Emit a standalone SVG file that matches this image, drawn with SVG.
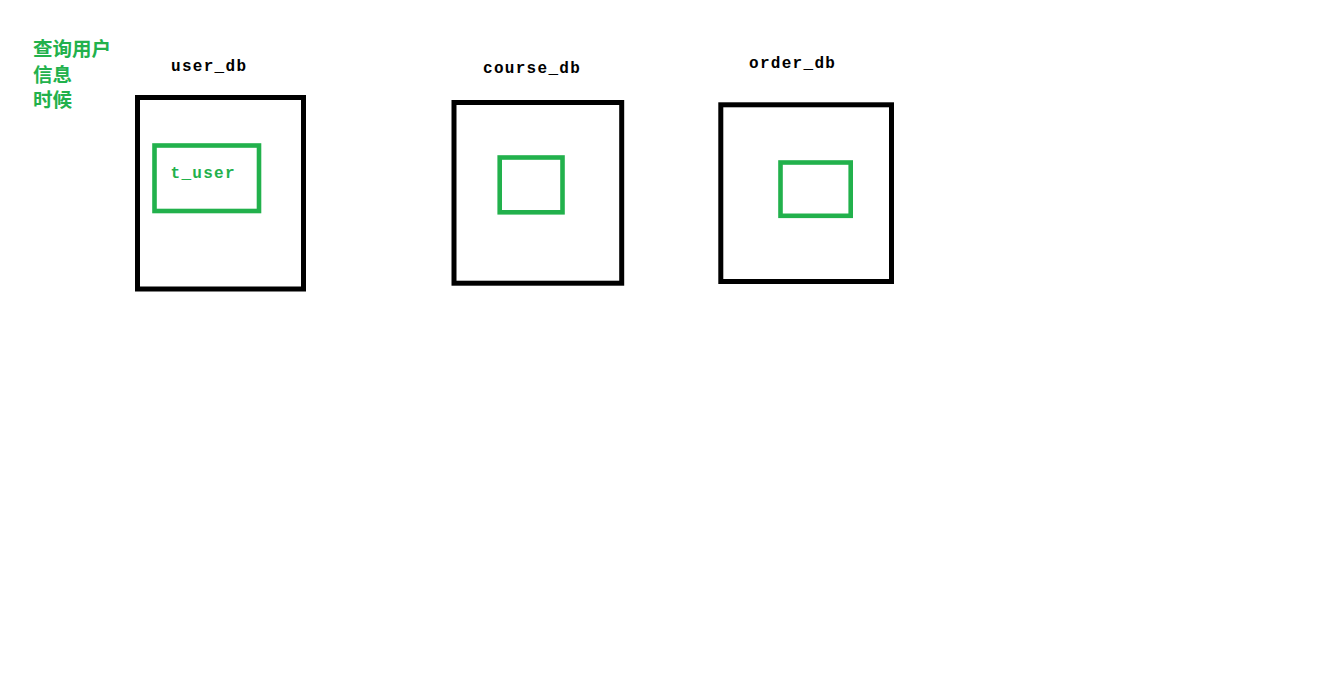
<svg xmlns="http://www.w3.org/2000/svg" width="1333" height="692" viewBox="0 0 1333 692">
<style>
.db{fill:none;stroke:#000;stroke-width:5}
.tb{fill:none;stroke:#22b14c;stroke-width:4.6}
.lbl{font-family:"Liberation Mono","DejaVu Sans Mono",monospace;font-size:16px;font-weight:bold;letter-spacing:1.3px;fill:#000}
.tl{font-family:"Liberation Mono","DejaVu Sans Mono",monospace;font-size:16px;font-weight:bold;letter-spacing:1.3px;fill:#22b14c}
.cn{font-family:"Liberation Sans","Noto Sans CJK SC",sans-serif;font-size:19.5px;font-weight:bold;fill:#22b14c}
</style>
<rect width="1333" height="692" fill="#fff"/>
<g id="note">
<text class="cn" x="33" y="56">查询用户</text>
<text class="cn" x="33" y="82">信息</text>
<text class="cn" x="33" y="107">时候</text>
</g>
<g id="user_db">
<text class="lbl" x="171" y="71">user_db</text>
<rect class="db" x="137.5" y="97.5" width="166" height="191.5"/>
</g>
<g id="t_user">
<rect class="tb" x="154.5" y="145.5" width="104.5" height="65.5"/>
<text class="tl" x="170.5" y="178">t_user</text>
</g>
<g id="course_db">
<text class="lbl" x="483" y="73">course_db</text>
<rect class="db" x="454" y="102.5" width="167.7" height="180.7"/>
</g>
<g id="course_table">
<rect class="tb" x="499.7" y="157.5" width="62.8" height="54.8"/>
</g>
<g id="order_db">
<text class="lbl" x="749" y="68">order_db</text>
<rect class="db" x="720.8" y="104.8" width="170.7" height="176.7"/>
</g>
<g id="order_table">
<rect class="tb" x="780.5" y="162.5" width="70.2" height="53.3"/>
</g>
<g id="connectors"/>
</svg>
